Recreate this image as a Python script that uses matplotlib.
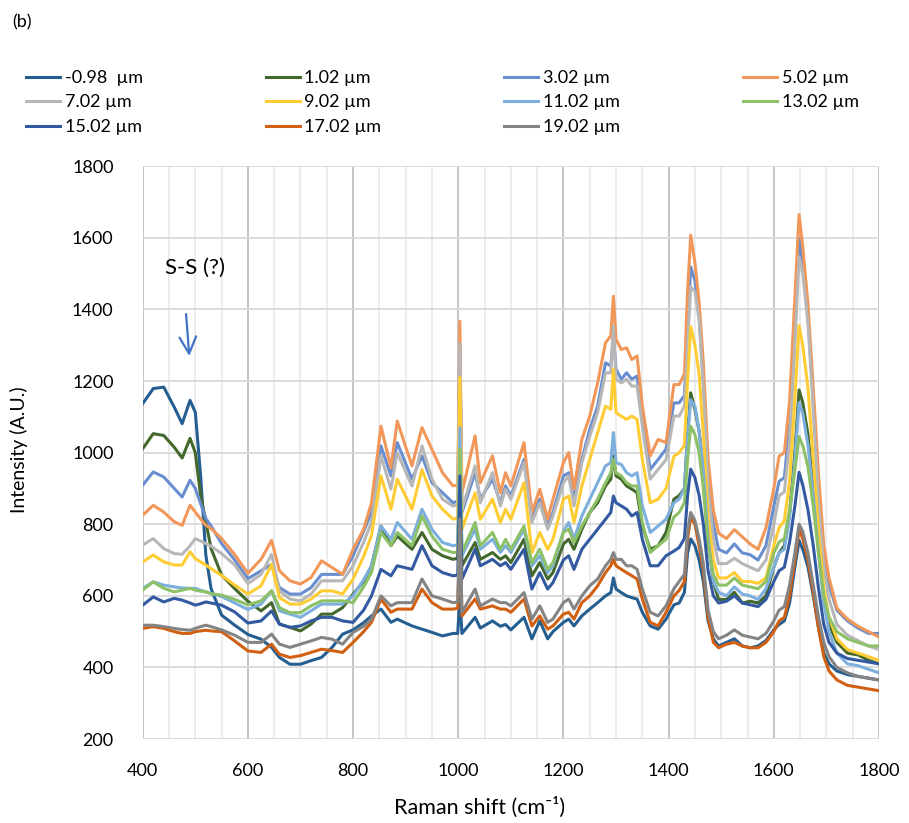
import matplotlib
matplotlib.use('Agg')
from matplotlib import pyplot as plt
from matplotlib.ticker import MultipleLocator

plt.rcParams['font.family'] = ['Lato', 'DejaVu Sans']

# Raman shift grid (cm-1)
shift = [400, 420, 440, 460, 475, 490, 500, 510, 520, 530, 550, 575,
         600, 625, 645, 660, 680, 700, 720, 740, 760, 780,
         800, 820, 835, 853, 872, 884, 912, 931, 950, 970, 990,
         999, 1003, 1007, 1032, 1042, 1065, 1080, 1090, 1100, 1125, 1140, 1155, 1170, 1180,
         1200, 1210, 1220, 1235, 1250, 1265, 1280, 1290, 1295, 1300, 1310, 1320, 1330, 1340, 1350, 1365, 1380, 1395,
         1410, 1420, 1430, 1436, 1442, 1450, 1458, 1466, 1475, 1485, 1495, 1510, 1525, 1540, 1555, 1570, 1585,
         1600, 1610, 1620, 1630, 1640, 1648, 1655, 1665, 1675, 1685, 1695, 1705, 1720, 1740, 1760, 1780, 1800]

depth_labels = ['-0.98  µm', '1.02 µm', '3.02 µm', '5.02 µm', '7.02 µm', '9.02 µm',
                '11.02 µm', '13.02 µm', '15.02 µm', '17.02 µm', '19.02 µm']

d_m098 = [1137, 1179, 1183, 1127, 1081, 1146, 1113, 937, 714, 620, 546, 518,
          492, 479, 456, 428, 409, 409, 419, 428, 456, 493,
          505, 525, 544, 563, 526, 535, 516, 507, 498, 488, 495,
          495, 600, 495, 540, 510, 530, 515, 520, 505, 540, 480, 530, 480, 500,
          526, 535, 516, 544, 563, 581, 600, 609, 650, 619, 609, 600, 595, 591, 554, 516, 507, 535,
          575, 580, 610, 720, 759, 740, 700, 640, 530, 480, 460, 470, 480, 460, 455, 460, 475,
          505, 520, 530, 580, 680, 755, 730, 680, 600, 510, 440, 410, 390, 380, 375, 370, 365]
d_102 = [1011, 1053, 1048, 1015, 985, 1040, 1000, 881, 807, 732, 658, 620,
         585, 558, 581, 521, 512, 502, 521, 549, 549, 567,
         605, 640, 684, 795, 740, 767, 730, 777, 730, 712, 702,
         705, 1000, 684, 749, 702, 721, 702, 712, 693, 758, 656, 693, 647, 665,
         745, 758, 730, 786, 833, 860, 907, 926, 991, 935, 926, 907, 898, 888, 795, 730, 740, 777,
         870, 880, 900, 1050, 1167, 1120, 1060, 950, 760, 640, 590, 590, 610, 580, 585, 580, 600,
         680, 720, 740, 830, 1000, 1175, 1140, 1050, 900, 740, 600, 520, 470, 440, 435, 420, 410]
d_302 = [909, 946, 932, 900, 876, 923, 900, 858, 816, 795, 746, 700,
         648, 670, 688, 623, 605, 605, 623, 660, 660, 660,
         712, 780, 833, 1019, 935, 1028, 926, 991, 916, 888, 860,
         865, 1300, 833, 944, 870, 926, 860, 907, 879, 981, 814, 870, 795, 833,
         935, 944, 870, 981, 1065, 1130, 1251, 1242, 1326, 1233, 1205, 1223, 1205, 1214, 1093, 953, 981, 1010,
         1139, 1139, 1160, 1350, 1519, 1480, 1380, 1200, 950, 800, 730, 720, 745, 720, 715, 700, 740,
         850, 920, 930, 1080, 1350, 1600, 1520, 1380, 1150, 900, 720, 630, 560, 530, 510, 495, 495]
d_502 = [825, 853, 834, 807, 797, 853, 834, 815, 797, 788, 760, 715,
         663, 702, 755, 670, 642, 633, 651, 698, 679, 660,
         730, 786, 860, 1074, 958, 1088, 963, 1070, 1009, 944, 907,
         910, 1367, 888, 1047, 916, 991, 888, 944, 907, 1028, 833, 898, 814, 870,
         972, 1000, 898, 1037, 1102, 1195, 1307, 1326, 1437, 1316, 1288, 1293, 1260, 1270, 1130, 991, 1037, 1028,
         1190, 1190, 1220, 1450, 1607, 1530, 1420, 1250, 980, 840, 775, 760, 785, 765, 745, 730, 790,
         900, 990, 1000, 1144, 1432, 1665, 1576, 1413, 1180, 940, 740, 650, 565, 535, 515, 500, 485]
d_702 = [742, 760, 732, 718, 716, 740, 760, 753, 746, 739, 718, 686,
         634, 660, 716, 614, 591, 586, 605, 642, 642, 642,
         684, 750, 805, 991, 898, 1000, 907, 1019, 926, 870, 851,
         855, 1305, 842, 963, 860, 944, 851, 898, 870, 972, 805, 860, 786, 823,
         916, 935, 851, 972, 1046, 1112, 1223, 1223, 1353, 1205, 1195, 1205, 1186, 1186, 1074, 926, 953, 980,
         1102, 1102, 1130, 1300, 1463, 1450, 1370, 1180, 900, 760, 690, 690, 705, 690, 680, 670, 700,
         800, 880, 890, 1030, 1300, 1547, 1500, 1360, 1120, 860, 680, 590, 520, 490, 475, 460, 450]
d_902 = [695, 714, 695, 686, 686, 723, 704, 695, 686, 676, 657, 630,
         605, 628, 688, 595, 577, 577, 591, 614, 614, 605,
         647, 710, 768, 935, 842, 926, 842, 953, 879, 842, 814,
         818, 1210, 786, 888, 814, 870, 805, 842, 814, 916, 721, 777, 730, 758,
         870, 879, 805, 907, 981, 1056, 1130, 1121, 1233, 1112, 1102, 1093, 1102, 1093, 981, 860, 870, 900,
         990, 1000, 1020, 1200, 1352, 1300, 1220, 1050, 820, 700, 650, 650, 665, 640, 640, 635, 650,
         740, 790, 810, 920, 1150, 1355, 1300, 1180, 980, 780, 620, 540, 480, 450, 440, 430, 420]
d_1102 = [621, 639, 630, 625, 622, 621, 621, 616, 611, 607, 598, 580,
          562, 577, 614, 558, 549, 540, 558, 577, 577, 577,
          600, 645, 684, 795, 758, 805, 758, 842, 786, 749, 740,
          742, 1070, 712, 786, 730, 758, 721, 740, 721, 786, 684, 712, 665, 684,
          780, 805, 758, 823, 870, 916, 963, 972, 1056, 972, 967, 944, 935, 944, 851, 777, 795, 814,
          860, 870, 900, 1040, 1148, 1130, 1060, 950, 760, 640, 610, 600, 625, 605, 600, 590, 620,
          680, 720, 730, 820, 980, 1140, 1110, 1020, 880, 720, 580, 500, 440, 410, 405, 395, 385]
d_1302 = [616, 639, 621, 611, 616, 621, 616, 613, 611, 606, 602, 590,
          575, 586, 614, 567, 553, 553, 572, 586, 586, 586,
          581, 625, 665, 777, 740, 777, 740, 823, 767, 730, 721,
          722, 1010, 721, 805, 740, 777, 730, 758, 730, 795, 693, 730, 674, 693,
          777, 786, 749, 795, 833, 870, 916, 944, 981, 944, 935, 916, 907, 907, 805, 721, 740, 758,
          820, 833, 860, 980, 1074, 1050, 1000, 900, 740, 660, 630, 630, 650, 630, 625, 620, 640,
          720, 750, 760, 840, 950, 1045, 1020, 960, 850, 720, 600, 540, 500, 480, 470, 460, 460]
d_1502 = [574, 597, 583, 593, 588, 580, 574, 578, 583, 580, 574, 555,
          524, 530, 558, 521, 512, 516, 530, 540, 540, 530,
          526, 560, 600, 674, 656, 684, 674, 740, 684, 665, 656,
          658, 935, 647, 730, 684, 702, 684, 693, 674, 730, 619, 665, 619, 637,
          700, 712, 674, 730, 758, 786, 814, 833, 879, 860, 851, 842, 823, 833, 758, 684, 684, 712,
          725, 735, 760, 880, 954, 930, 880, 800, 670, 600, 580, 585, 600, 580, 575, 570, 590,
          640, 670, 680, 750, 850, 945, 910, 840, 740, 620, 520, 470, 440, 425, 420, 415, 410]
d_1702 = [509, 514, 509, 500, 495, 495, 500, 502, 504, 502, 500, 474,
          446, 442, 465, 437, 428, 433, 442, 451, 447, 442,
          470, 500, 526, 591, 554, 563, 563, 619, 581, 563, 563,
          565, 790, 544, 591, 563, 572, 563, 563, 554, 591, 516, 544, 507, 516,
          549, 554, 535, 581, 600, 628, 665, 684, 702, 684, 674, 665, 656, 647, 591, 526, 516, 554,
          600, 615, 640, 760, 819, 800, 740, 670, 540, 470, 455, 465, 470, 460, 455, 455, 470,
          500, 530, 540, 600, 700, 785, 760, 700, 610, 510, 430, 390, 365, 350, 345, 340, 335]
d_1902 = [518, 518, 514, 509, 506, 504, 509, 514, 518, 514, 505, 490,
          470, 470, 493, 465, 456, 465, 474, 484, 479, 465,
          498, 515, 535, 600, 572, 581, 581, 647, 600, 591, 581,
          583, 815, 554, 619, 572, 591, 581, 581, 572, 609, 535, 572, 526, 535,
          581, 591, 563, 600, 628, 647, 684, 702, 721, 702, 702, 684, 684, 674, 619, 554, 544, 572,
          620, 640, 660, 780, 833, 810, 760, 690, 560, 500, 480, 490, 505, 490, 485, 480, 495,
          530, 560, 570, 630, 720, 800, 780, 720, 630, 540, 470, 430, 400, 385, 375, 370, 365]

spectra = [d_m098, d_102, d_302, d_502, d_702, d_902, d_1102, d_1302, d_1502, d_1702, d_1902]
colors = ['#255E91', '#43682B', '#698ED0', '#F1975A', '#B7B7B7', '#FFCD33',
          '#7CAFDD', '#8CC168', '#335AA1', '#D26012', '#848484']

fig = plt.figure(figsize=(9.09, 8.23), dpi=100)
ax = fig.add_axes([0.157, 0.102, 0.81, 0.696])

lines = []
for y, c, lab in zip(spectra, colors, depth_labels):
    ln, = ax.plot(shift, y, color=c, lw=2.2, label=lab)
    lines.append(ln)

ax.set_xlim(400, 1800)
ax.set_ylim(200, 1800)
ax.xaxis.set_major_locator(MultipleLocator(200))
ax.xaxis.set_minor_locator(MultipleLocator(50))
ax.yaxis.set_major_locator(MultipleLocator(200))
ax.grid(True, which='major', axis='x', color='#BFBFBF', lw=1.3)
ax.grid(True, which='minor', axis='x', color='#EBEBEB', lw=1.3)
ax.grid(True, which='major', axis='y', color='#D9D9D9', lw=1.3)
ax.set_axisbelow(True)
for s in ax.spines.values():
    s.set_visible(False)
ax.tick_params(which='both', length=0, labelsize=13, colors='black')
ax.tick_params(axis='x', pad=17)
ax.tick_params(axis='y', pad=21)

fig.text(19 / 909, 1 - 450 / 823, 'Intensity (A.U.)', fontsize=14,
         rotation=90, ha='center', va='center')
fig.text(480 / 909, 1 - 807 / 823, 'Raman shift (cm\u207b\u00b9)', fontsize=15.5,
         ha='center', va='center')
fig.text(12 / 909, 1 - 22 / 823, '(b)', fontsize=13, ha='left', va='center')

# S-S annotation
ax.annotate('', xy=(489, 1262), xytext=(482, 1395),
            arrowprops=dict(arrowstyle='->', color='#4472C4', lw=1.6,
                            mutation_scale=30))
ax.text(442, 1515, 'S-S (?)', fontsize=16, ha='left', va='center')

# row-major legend order as in the original
order = [0, 4, 8, 1, 5, 9, 2, 6, 10, 3, 7]
fig.legend([lines[i] for i in order], [depth_labels[i] for i in order],
           loc='upper left', bbox_to_anchor=(26 / 909, 1 - 70 / 823), ncol=4,
           frameon=False, fontsize=13, handlelength=1.9, handletextpad=0.25,
           columnspacing=6.8, labelspacing=0.47, borderaxespad=0, borderpad=0)

fig.savefig('out.png', dpi=100)
